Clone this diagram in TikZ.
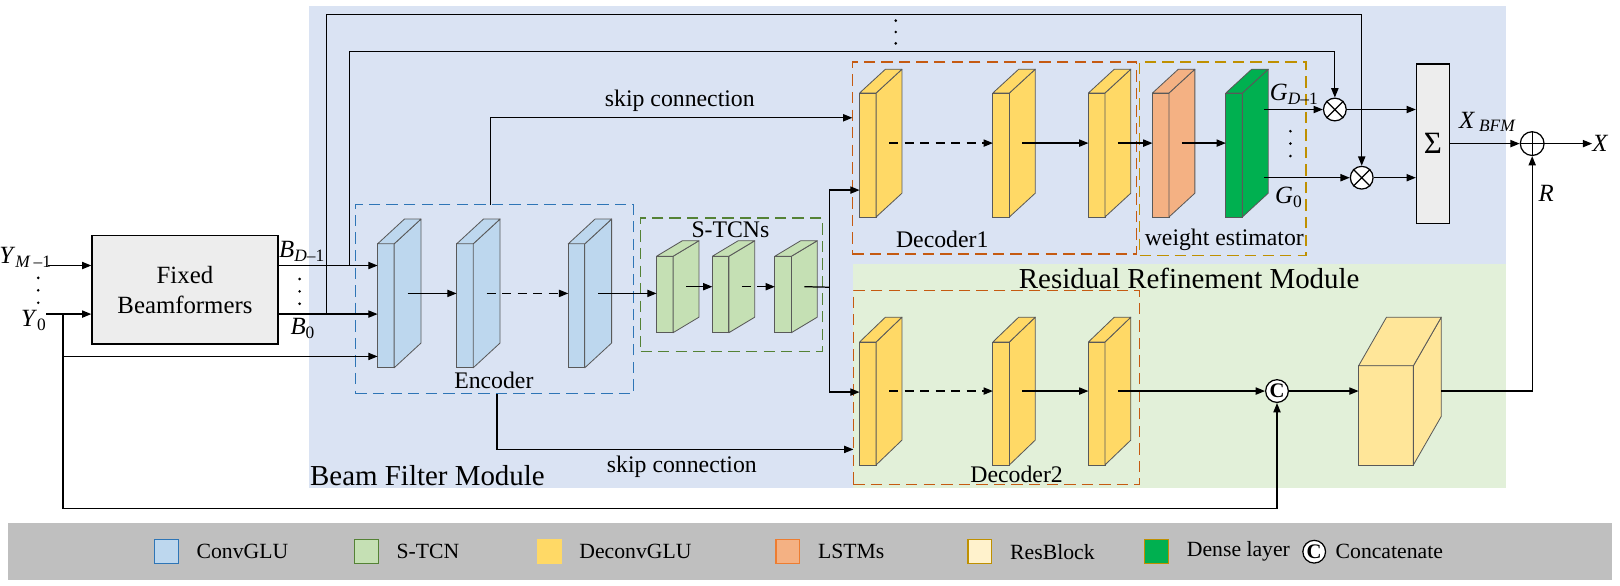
\documentclass[tikz,border=0pt]{standalone}
\usepackage{fontspec}
\setmainfont{Liberation Serif}
\usepackage{tikz}
\usetikzlibrary{arrows.meta, calc, positioning}
\definecolor{bfmbg}{HTML}{DAE3F3}
\definecolor{rrmbg}{HTML}{E2F0D9}
\definecolor{boxgray}{HTML}{EDEDED}
\definecolor{legbar}{HTML}{BFBFBF}
\definecolor{slabline}{HTML}{595959}
\definecolor{encfill}{HTML}{BDD7EE}
\definecolor{tcnfill}{HTML}{C5E0B4}
\definecolor{decfill}{HTML}{FFD966}
\definecolor{lstmfill}{HTML}{F4B183}
\definecolor{densefill}{HTML}{00B050}
\definecolor{resfill}{HTML}{FFE699}
\definecolor{reslight}{HTML}{FFF2CC}
\definecolor{encdash}{HTML}{2E75B6}
\definecolor{tcndash}{HTML}{548235}
\definecolor{decdash}{HTML}{C55A11}
\definecolor{lstmline}{HTML}{ED7D31}
\definecolor{wedash}{HTML}{BF9000}
% 3-D slab: name, fill, x, y (front centre), width, height, depth x, depth y
\newcommand{\slab}[8]{%
  \node[slabface, fill=#2, minimum width=#5pt, minimum height=#6pt] (#1) at (#3,#4) {};
  \filldraw[slabedge, fill=#2] (#1.north east) -- ++(#7,#8) -- ++(0,#6) -- (#1.south east) -- cycle;
  \filldraw[slabedge, fill=#2] (#1.north west) -- ++(#7,#8) -- ++(#5,0) -- (#1.north east) -- cycle;
  \coordinate (#1-out) at ($(#1.east)+(#7/2,#8/2)$);
}

\begin{document}
\begin{tikzpicture}[x=1pt, y=-1pt,
  lbl/.style={font=\fontsize{23}{26}\selectfont, inner sep=0pt},
  modlbl/.style={font=\fontsize{28}{32}\selectfont, inner sep=0pt},
  slabface/.style={draw=slabline, line width=0.8pt, inner sep=0pt, outer sep=0pt},
  slabedge/.style={draw=slabline, line width=0.8pt, line join=round},
  grp/.style={line width=1.3pt, dash pattern=on 11pt off 6pt, inner sep=0pt, outer sep=0pt},
  conn/.style={line width=1.2pt},
  arr/.style={-{Triangle[length=9pt,width=7pt]}, line width=1.2pt},
  broken/.style={dash pattern=on 9pt off 6pt},
  opcirc/.style={circle, draw, fill=white, line width=1.2pt, minimum size=22pt, inner sep=0pt},
  catcirc/.style={circle, draw, fill=white, line width=1.2pt, minimum size=22pt, inner sep=0pt,
                  font=\fontsize{20}{20}\selectfont\bfseries},
  legsq/.style={minimum size=23pt, line width=1.2pt, inner sep=0pt},
  legtxt/.style={font=\fontsize{21}{24}\selectfont, inner sep=0pt, anchor=west}]
\useasboundingbox (0,0) rectangle (1568,567);

% module backgrounds
\fill[bfmbg] (299,6) rectangle (1458,472);
\fill[rrmbg] (826,256) rectangle (1458,472);

% groups
\node[grp, draw=encdash, minimum width=269pt, minimum height=183pt] (encbox) at (478.5,289.5) {};
\node[grp, draw=tcndash, minimum width=176pt, minimum height=129pt] (tcnbox) at (708,275.5) {};
\node[grp, draw=decdash, minimum width=275pt, minimum height=186pt] (d1box) at (962.5,153) {};
\node[grp, draw=wedash, minimum width=161pt, minimum height=187pt] (webox) at (1183.5,153.5) {};
\node[grp, draw=decdash, minimum width=277pt, minimum height=188pt] (d2box) at (964.5,375) {};

% fixed beamformers
\node[draw, fill=boxgray, line width=1.2pt, minimum width=180pt, minimum height=105pt,
      align=center, font=\fontsize{24}{29}\selectfont] (fbf) at (179,280.5) {Fixed\\Beamformers};

% encoder, S-TCNs, decoders
\slab{e1}{encfill}{373.5}{296}{16}{120}{26}{-24}
\slab{e2}{encfill}{450}{296}{16}{120}{26}{-24}
\slab{e3}{encfill}{558}{296}{16}{120}{26}{-24}
\slab{t1}{tcnfill}{643.5}{285}{16}{74}{25}{-15}
\slab{t2}{tcnfill}{697.5}{285}{16}{74}{25}{-15}
\slab{t3}{tcnfill}{758}{285}{16}{74}{25}{-15}
\slab{a1}{decfill}{840}{150}{16}{120}{25}{-23}
\slab{a2}{decfill}{969}{150}{16}{120}{25}{-23}
\slab{a3}{decfill}{1061.5}{150}{16}{120}{25}{-23}
\slab{lstm}{lstmfill}{1123.5}{150}{16}{120}{25}{-23}
\slab{dense}{densefill}{1194.5}{150}{16}{120}{25}{-23}
\slab{b1}{decfill}{840}{390.5}{16}{119}{25}{-24}
\slab{b2}{decfill}{969}{390.5}{16}{119}{25}{-24}
\slab{b3}{decfill}{1061.5}{390.5}{16}{119}{25}{-24}
\slab{res}{resfill}{1341.5}{402}{53}{96}{27}{-47}

% combining
\node[opcirc] (mul1) at (1292,106) {};
\draw[line width=1.2pt] (mul1.45) -- (mul1.225) (mul1.135) -- (mul1.315);
\node[opcirc] (mul2) at (1318,172) {};
\draw[line width=1.2pt] (mul2.45) -- (mul2.225) (mul2.135) -- (mul2.315);
\node[draw, fill=boxgray, line width=1.2pt, minimum width=32pt, minimum height=154pt,
      font=\fontsize{30}{32}\selectfont] (sum) at (1387,139) {Σ};
\node[opcirc, minimum size=23pt] (add) at (1483,139) {};
\draw[line width=1.2pt] (add.north) -- (add.south) (add.east) -- (add.west);
\node[catcirc] (cat) at (1236,378.5) {C};

% inputs
\coordinate (ym) at (46,257);
\coordinate (y0) at (45,304);
\coordinate (y0split) at (61,304);
\coordinate (y0enc) at (61,345);
\coordinate (y0low) at (61,492);
\draw[arr] (ym) -- (ym -| fbf.west);
\draw[arr] (y0) -- (y0 -| fbf.west);
\draw[arr] (y0split) -- (y0low) -| (cat.south);
\draw[arr] (y0enc) -- (y0enc -| e1.west);
\draw[arr] (fbf.east |- ym) -- (ym -| e1.west);
\draw[arr] (fbf.east |- y0) -- (y0 -| e1.west);

% beams to the multipliers
\coordinate (outer) at (316,304);
\coordinate (outtop) at (316,14);
\coordinate (inner) at (338,257);
\coordinate (intop) at (338,50);
\draw[arr] (outer) -- (outtop) -| (mul2.north);
\draw[arr] (inner) -- (intop) -| (mul1.north);

% encoder and S-TCNs
\draw[arr] (e1-out) -- (e1-out -| e2.west);
\draw[arr, broken] (e2-out) -- (e2-out -| e3.west);
\draw[arr] (e3-out) -- (e3-out -| t1.west);
\draw[arr] (t1-out) -- (t1-out -| t2.west);
\draw[arr, broken] (t2-out) -- (t2-out -| t3.west);
\coordinate (fork) at (803,278);
\coordinate (d1in) at ($(a1.west)+(0,34)$);
\coordinate (d2in) at ($(b1.west)+(0,-11)$);
\draw[conn] (t3-out) -- (fork);
\draw[arr] (fork) |- (d1in);
\draw[arr] (fork) |- (d2in);

% skip connections
\coordinate (sk1) at (475,114);
\coordinate (sk2) at (481,435);
\draw[arr] (encbox.north -| sk1) -- (sk1) -- (sk1 -| d1box.west);
\draw[arr] (encbox.south -| sk2) -- (sk2) -- (sk2 -| d2box.west);

% decoder 1 and weight estimator
\draw[arr, broken] (a1-out) -- (a1-out -| a2.west);
\draw[arr] (a2-out) -- (a2-out -| a3.west);
\draw[arr] (a3-out) -- (a3-out -| lstm.west);
\draw[arr] (lstm-out) -- (lstm-out -| dense.west);
\coordinate (gsrc) at ($(dense.east)+(21,0)$);
\draw[arr] (gsrc |- mul1) -- (mul1.west);
\draw[arr] (gsrc |- mul2) -- (mul2.west);
\draw[arr] (mul1.east) -- (mul1 -| sum.west);
\draw[arr] (mul2.east) -- (mul2 -| sum.west);

% decoder 2 and refinement
\draw[arr, broken] (b1-out) -- (b1-out -| b2.west);
\draw[arr] (b2-out) -- (b2-out -| b3.west);
\draw[arr] (b3-out) -- (b3-out -| cat.west);
\draw[arr] (cat.east) -- (cat -| res.west);
\draw[arr] ($(res-out)+(13.5,0)$) -| (add.south);

% output
\node[lbl, anchor=west, font=\fontsize{24}{26}\selectfont\itshape] (xlab) at (1541,139) {X};
\draw[arr] (sum.east |- add) -- (add.west);
\draw[arr] (add.east) -- (xlab.west);

% signal labels
\node[lbl, anchor=base east, font=\fontsize{24}{26}\selectfont] (ymlab) at (50,255) {\textit{Y}\textsubscript{\textit{M}\,–1}};
\node[lbl, anchor=base east, font=\fontsize{24}{26}\selectfont] (y0lab) at (45,316) {\textit{Y}\textsubscript{0}};
\node[lbl, anchor=base west, font=\fontsize{24}{26}\selectfont] (bdlab) at (270,249) {\textit{B}\textsubscript{\textit{D}–1}};
\node[lbl, anchor=base west, font=\fontsize{24}{26}\selectfont] (b0lab) at (281,324) {\textit{B}\textsubscript{0}};
\node[lbl, anchor=base west, font=\fontsize{24}{26}\selectfont] (gdlab) at (1229,97) {\textit{G}\textsubscript{\textit{D}–1}};
\node[lbl, anchor=base west, font=\fontsize{24}{26}\selectfont] (g0lab) at (1234,197) {\textit{G}\textsubscript{0}};
\node[lbl, anchor=base west, font=\fontsize{24}{26}\selectfont] (xbfmlab) at (1412,124) {\textit{X}\,\textsubscript{\textit{BFM}}};
\node[lbl, anchor=base west, font=\fontsize{24}{26}\selectfont\itshape] (rlab) at (1489,195) {R};

% ellipses
\fill (37,269) circle (1.4) (37,281) circle (1.4) (37,293) circle (1.4);
\fill (290,270) circle (1.4) (290,282) circle (1.4) (290,294) circle (1.4);
\fill (867,20) circle (1.4) (867,31) circle (1.4) (867,42) circle (1.4);
\fill (1249,127) circle (1.4) (1249,139) circle (1.4) (1249,151) circle (1.4);

% captions
\node[lbl] (enclab) at (478,368) {Encoder};
\node[lbl] (tcnlab) at (707,222) {S-TCNs};
\node[lbl] (d1lab) at (912,232) {Decoder1};
\node[lbl] (welab) at (1185,232) {weight estimator};
\node[lbl] (d2lab) at (984,459) {Decoder2};
\node[lbl] (sk1lab) at (658,98) {skip connection};
\node[lbl] (sk2lab) at (660,452) {skip connection};
\node[modlbl, anchor=west] (bfmlab) at (300,460) {Beam Filter Module};
\node[modlbl] (rrmlab) at (1151,270) {Residual Refinement Module};

% legend
\fill[legbar] (8,506) rectangle (1560,561);
\node[legsq, fill=encfill, draw=encdash] (lg1) at (161,534) {};
\node[legtxt, right=17pt of lg1] (lt1) {ConvGLU};
\node[legsq, fill=tcnfill, draw=tcndash] (lg2) at (354.5,534) {};
\node[legtxt, right=17pt of lg2] (lt2) {S-TCN};
\node[legsq, fill=decfill, draw=decfill] (lg3) at (531.5,534) {};
\node[legtxt, right=17pt of lg3] (lt3) {DeconvGLU};
\node[legsq, fill=lstmfill, draw=lstmline] (lg4) at (762.5,534) {};
\node[legtxt, right=17pt of lg4] (lt4) {LSTMs};
\node[legsq, fill=reslight, draw=wedash] (lg5) at (948.5,534) {};
\node[legtxt, right=17pt of lg5] (lt5) {ResBlock};
\node[legsq, fill=densefill, draw=wedash] (lg6) at (1119.5,534) {};
\node[legtxt, right=17pt of lg6] (lt6) {Dense layer};
\node[catcirc] (lg7) at (1272,534) {C};
\node[legtxt, right=9pt of lg7] (lt7) {Concatenate};
\end{tikzpicture}
\end{document}
